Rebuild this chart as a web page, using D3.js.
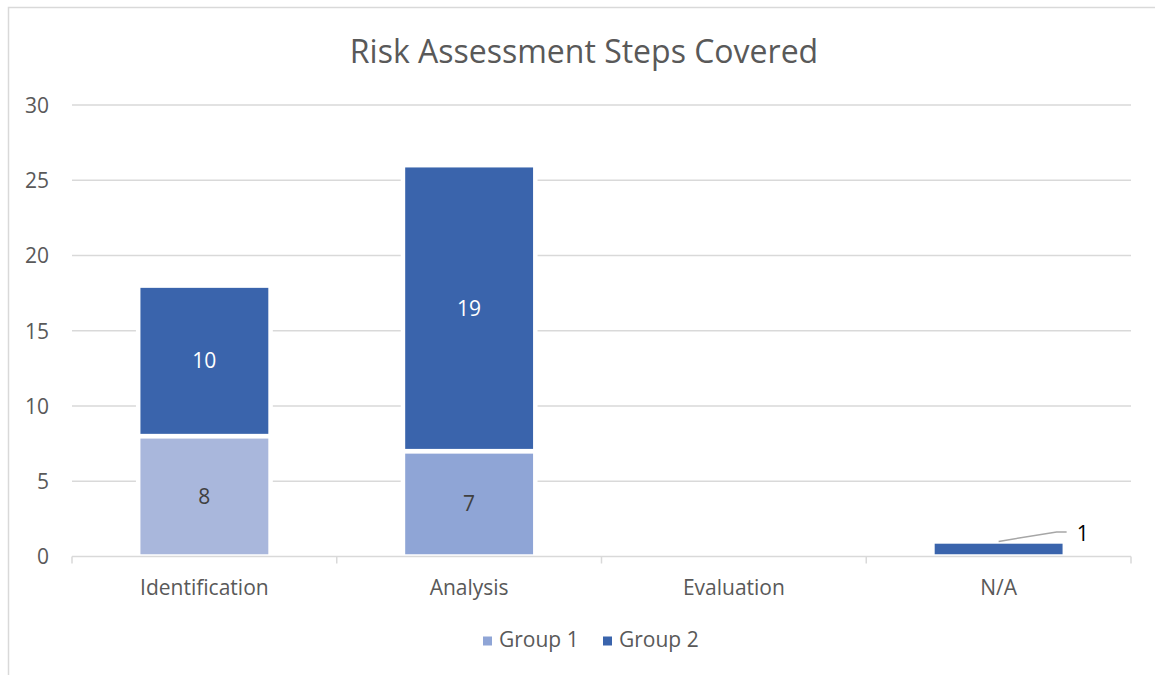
<!DOCTYPE html>
<html>
<head>
<meta charset="utf-8">
<script src="https://cdn.jsdelivr.net/npm/d3@7"></script>
<style>
  html, body { margin: 0; padding: 0; background: #ffffff; }
  svg { display: block; }
  text { font-family: "Open Sans", "DejaVu Sans", sans-serif; }
</style>
</head>
<body>
<svg id="chart" width="1155" height="675"></svg>
<script>
// Chart data
const title = "Risk Assessment Steps Covered";
const categories = ["Identification", "Analysis", "Evaluation", "N/A"];
const seriesNames = ["Group 1", "Group 2"];
const group1 = [8, 7, 0, 0];
const group2 = [10, 19, 0, 1];
const yTicks = [0, 5, 10, 15, 20, 25, 30];

// Colours
const group1Fill = "#8fa5d6";
const group1PointFill = ["#a9b7dc", "#8fa5d6", "#8fa5d6", "#8fa5d6"];
const group2Fill = "#3a64ac";
const textColor = "#595959";
const gridColor = "#d9d9d9";

const svg = d3.select("#chart");
const W = 1155, H = 675;

// chart frame
svg.append("rect")
  .attr("x", 8.5).attr("y", 7.5)
  .attr("width", W + 20).attr("height", H + 20)
  .attr("fill", "#ffffff")
  .attr("stroke", gridColor).attr("stroke-width", 1.5);

const plot = { left: 72, right: 1131, top: 105, bottom: 556.5 };

const x = d3.scaleBand()
  .domain(categories)
  .range([plot.left, plot.right])
  .paddingInner(0.5)
  .paddingOuter(0.25);

const y = d3.scaleLinear()
  .domain([0, 30])
  .range([plot.bottom, plot.top]);

// title, centred on the chart frame
svg.append("text")
  .attr("x", 584)
  .attr("y", 63)
  .attr("text-anchor", "middle")
  .attr("fill", textColor)
  .attr("font-size", 32)
  .text(title);

// gridlines
svg.append("g")
  .selectAll("line")
  .data(yTicks.filter(d => d > 0))
  .join("line")
  .attr("x1", plot.left).attr("x2", plot.right)
  .attr("y1", d => y(d)).attr("y2", d => y(d))
  .attr("stroke", gridColor).attr("stroke-width", 1.5);

// y axis labels
const yAxis = d3.axisLeft(y).tickValues(yTicks).tickSize(0).tickPadding(0);
const gy = svg.append("g")
  .attr("transform", `translate(49,0)`)
  .call(yAxis);
gy.select(".domain").remove();
gy.selectAll("text")
  .attr("fill", textColor)
  .attr("font-size", 21)
  .attr("font-family", "Open Sans")
  .attr("dy", "0.35em");

// stacked bars
const rows = categories.map((c, i) => ({ cat: c, i, g1: group1[i], g2: group2[i] }));
const stack = d3.stack().keys(["g1", "g2"]);
const layers = stack(rows);

const barStroke = 4.5;
const gBars = svg.append("g");
layers.forEach((layer, li) => {
  gBars.selectAll(null)
    .data(layer.filter(d => d[1] - d[0] > 0))
    .join("rect")
    .attr("x", d => x(d.data.cat))
    .attr("width", x.bandwidth())
    .attr("y", d => y(d[1]))
    .attr("height", d => y(d[0]) - y(d[1]))
    .attr("fill", d => li === 0 ? group1PointFill[d.data.i] : group2Fill)
    .attr("stroke", "#ffffff")
    .attr("stroke-width", barStroke);
});

// category axis
const xAxisG = svg.append("g");
xAxisG.append("line")
  .attr("x1", plot.left).attr("x2", plot.right)
  .attr("y1", plot.bottom).attr("y2", plot.bottom)
  .attr("stroke", gridColor).attr("stroke-width", 1.5);
const step = x.step();
const boundaries = d3.range(categories.length + 1).map(k => plot.left + k * step);
xAxisG.selectAll("line.tick")
  .data(boundaries)
  .join("line")
  .attr("class", "tick")
  .attr("x1", d => d).attr("x2", d => d)
  .attr("y1", plot.bottom).attr("y2", plot.bottom + 7)
  .attr("stroke", gridColor).attr("stroke-width", 1.5);
xAxisG.selectAll("text")
  .data(categories)
  .join("text")
  .attr("x", d => x(d) + x.bandwidth() / 2)
  .attr("y", 595)
  .attr("text-anchor", "middle")
  .attr("fill", textColor)
  .attr("font-size", 21)
  .text(d => d);

// data labels
const gLabels = svg.append("g");
layers.forEach((layer, li) => {
  layer.forEach(d => {
    const v = d[1] - d[0];
    if (v <= 0) return;
    const cx = x(d.data.cat) + x.bandwidth() / 2;
    const segH = y(d[0]) - y(d[1]);
    if (segH > 30) {
      gLabels.append("text")
        .attr("x", cx)
        .attr("y", (y(d[0]) + y(d[1])) / 2)
        .attr("dy", "0.35em")
        .attr("text-anchor", "middle")
        .attr("fill", li === 0 ? "#404040" : "#ffffff")
        .attr("font-size", 21)
        .text(v);
    } else {
      // small segment: label moved to the upper right with a leader line
      const top = y(d[1]);
      const lx = cx + 78, ly = top - 8;
      gLabels.append("polyline")
        .attr("points", `${cx},${top} ${lx - 20},${ly - 1.5} ${lx - 10},${ly - 1.5}`)
        .attr("fill", "none")
        .attr("stroke", "#a6a6a6")
        .attr("stroke-width", 1.5);
      gLabels.append("text")
        .attr("x", lx)
        .attr("y", ly)
        .attr("dy", "0.35em")
        .attr("fill", "#000000")
        .attr("font-size", 21)
        .text(v);
    }
  });
});

// legend
const legend = svg.append("g");
const legendItems = [
  { name: seriesNames[0], fill: group1Fill, x: 483 },
  { name: seriesNames[1], fill: group2Fill, x: 603 }
];
legendItems.forEach(it => {
  legend.append("rect")
    .attr("x", it.x).attr("y", 636.5)
    .attr("width", 9).attr("height", 9)
    .attr("fill", it.fill);
  legend.append("text")
    .attr("x", it.x + 16).attr("y", 647)
    .attr("fill", textColor)
    .attr("font-size", 21)
    .text(it.name);
});
</script>
</body>
</html>
